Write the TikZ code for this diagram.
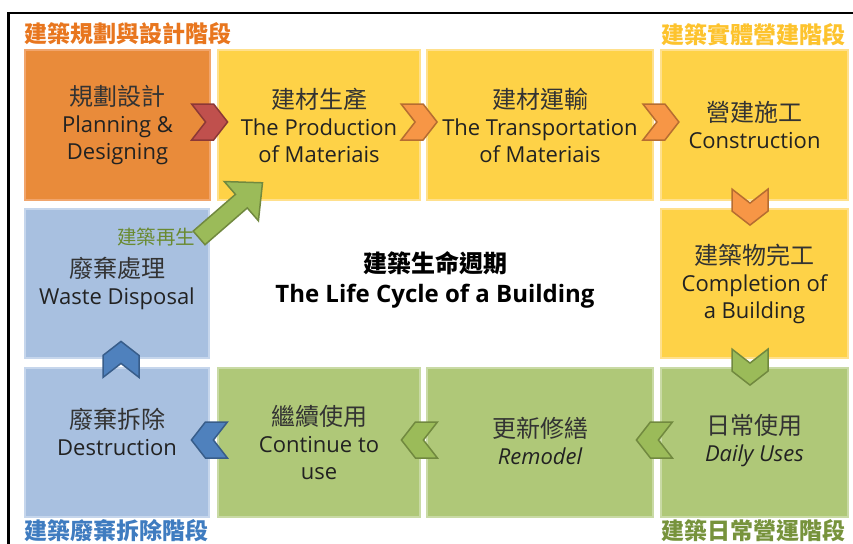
\documentclass[tikz,border=0pt]{standalone}
\usepackage{fontspec}
\setmainfont{Open Sans}
\newfontfamily\cjk{Noto Sans CJK TC}
\usetikzlibrary{calc}
\definecolor{orgbox}{HTML}{E98B3A}
\definecolor{orgline}{HTML}{F1A56C}
\definecolor{yelbox}{HTML}{FED247}
\definecolor{yelline}{HTML}{FFE08C}
\definecolor{blubox}{HTML}{A8C0E0}
\definecolor{bluline}{HTML}{C6D6EC}
\definecolor{grnbox}{HTML}{AFC878}
\definecolor{grnline}{HTML}{C9DAA5}
\definecolor{redchev}{HTML}{C0504D}
\definecolor{redchevd}{HTML}{8C3836}
\definecolor{orgchev}{HTML}{F79646}
\definecolor{orgchevd}{HTML}{B66D31}
\definecolor{grnchev}{HTML}{9BBB59}
\definecolor{grnchevd}{HTML}{71893F}
\definecolor{bluchev}{HTML}{4F81BD}
\definecolor{bluchevd}{HTML}{385D8A}
\definecolor{phaseorg}{HTML}{E8761E}
\definecolor{phaseyel}{HTML}{FDC32D}
\definecolor{phaseblu}{HTML}{3F7CC0}
\definecolor{phasegrn}{HTML}{77933C}
\definecolor{regengrn}{HTML}{6A8A30}
\definecolor{txtdark}{HTML}{222222}
\definecolor{cjkdark}{HTML}{333333}
\tikzset{
  cell/.style 2 args={rectangle, fill=#1, draw=#2, line width=1.2pt, inner sep=0pt},
  celltxt/.style={align=center, text=txtdark, inner sep=0pt,
    font=\fontsize{22}{27}\selectfont},
  phase/.style={inner sep=0pt, font=\cjk\bfseries\fontsize{23}{26}\selectfont},
  chev/.pic={\path[pic actions] (-18,-18) -- (4,-18) -- (18,0) -- (4,18) -- (-18,18) -- (-4,0) -- cycle;},
  chevstyle/.style 2 args={fill=#1, draw=#2, line width=1.5pt, line join=miter}
}
\newcommand{\zh}[1]{{\cjk\fontsize{24}{27}\selectfont\color{cjkdark}#1}}
\begin{document}
\begin{tikzpicture}[x=1pt,y=-1pt]
\useasboundingbox (0,0) rectangle (853,543);
\fill[white] (0,0) rectangle (853,543);
% frame
\coordinate (fr1) at (8.7,543);
\coordinate (fr2) at (8.7,12.8);
\coordinate (fr3) at (853,12.8);
\draw[line width=2.5pt, line cap=rect] (fr1) -- (fr2) -- (fr3);
% row 1
\node[cell={orgbox}{orgline}, minimum width=185pt, minimum height=150pt] (b1) at (117.5,125) {};
\node[cell={yelbox}{yelline}, minimum width=202pt, minimum height=150pt] (b2) at (319,125) {};
\node[cell={yelbox}{yelline}, minimum width=226pt, minimum height=150pt] (b3) at (540,125) {};
\node[cell={yelbox}{yelline}, minimum width=187pt, minimum height=150pt] (b4) at (754.5,125) {};
% row 2
\node[cell={blubox}{bluline}, minimum width=184pt, minimum height=149pt] (b10) at (117,283.5) {};
\node[cell={yelbox}{yelline}, minimum width=187pt, minimum height=149pt] (b5) at (754.5,283.5) {};
% row 3
\node[cell={blubox}{bluline}, minimum width=184pt, minimum height=149pt] (b9) at (117,442.5) {};
\node[cell={grnbox}{grnline}, minimum width=202pt, minimum height=149pt] (b8) at (319,442.5) {};
\node[cell={grnbox}{grnline}, minimum width=226pt, minimum height=149pt] (b7) at (540,442.5) {};
\node[cell={grnbox}{grnline}, minimum width=187pt, minimum height=149pt] (b6) at (754.5,442.5) {};
% texts
\node[celltxt] (t1) at (b1) {\zh{規劃設計}\\Planning \&\\Designing};
\node[celltxt] (t2) at (b2) {\zh{建材生產}\\The Production\\of Materiais};
\node[celltxt] (t3) at (b3) {\zh{建材運輸}\\The Transportation\\of Materiais};
\node[celltxt] (t4) at (b4) {\zh{營建施工}\\Construction};
\node[celltxt] (t5) at (b5) {\zh{建築物完工}\\Completion of\\a Building};
\node[celltxt] (t6) at ($(b6)+(0,-2)$) {\zh{日常使用}\\\itshape Daily Uses};
\node[celltxt] (t7) at ($(b7)+(0,-2)$) {\zh{更新修繕}\\\itshape Remodel};
\node[celltxt] (t8) at (b8) {\zh{繼續使用}\\Continue to\\use};
\node[celltxt] (t9) at ($(b9)+(0,-11)$) {\zh{廢棄拆除}\\Destruction};
\node[celltxt] (t10) at (b10) {\zh{廢棄處理}\\Waste Disposal};
% centre title
\node[align=center, inner sep=0pt, font=\bfseries\fontsize{24}{30}\selectfont] (title) at (435,280)
  {{\cjk\bfseries 建築生命週期}\\The Life Cycle of a Building};
% phase labels
\node[phase, text=phaseorg, anchor=west] (p1) at ($(b1.north west)+(0,-16)$) {建築規劃與設計階段};
\node[phase, text=phaseyel, anchor=east] (p2) at ($(b4.north east)+(-3,-15)$) {建築實體營建階段};
\node[phase, text=phaseblu, anchor=west] (p3) at ($(b9.south west)+(0,13)$) {建築廢棄拆除階段};
\node[phase, text=phasegrn, anchor=east] (p4) at ($(b6.south east)+(-3,13)$) {建築日常營運階段};
% chevrons
\pic[chevstyle={redchev}{redchevd}] at ($(b1.east)+(-1,-3)$) {chev};
\pic[chevstyle={orgchev}{orgchevd}] at ($(b2.east)+(-1.5,-3)$) {chev};
\pic[chevstyle={orgchev}{orgchevd}] at ($(b4.west)+(0.5,-3)$) {chev};
\pic[chevstyle={orgchev}{orgchevd}, rotate=-90] at ($(b4.south)+(-4.5,6.5)$) {chev};
\pic[chevstyle={grnchev}{grnchevd}, rotate=-90] at ($(b5.south)+(-4.5,8.5)$) {chev};
\pic[chevstyle={grnchev}{grnchevd}, rotate=180] at ($(b6.west)+(-6,-2.5)$) {chev};
\pic[chevstyle={grnchev}{grnchevd}, rotate=180] at ($(b7.west)+(-7,-2.5)$) {chev};
\pic[chevstyle={bluchev}{bluchevd}, rotate=180] at ($(b8.west)+(-8,-2.5)$) {chev};
\pic[chevstyle={bluchev}{bluchevd}, rotate=90] at ($(b9.north)+(4,-8)$) {chev};
% green recycle arrow
\coordinate (gt) at ($(b10.north east)+(-10.5,29.5)$);
\begin{scope}[shift={(gt)}, rotate=41]
  \filldraw[fill=grnchev, draw=grnchevd, line width=1.5pt, line join=miter]
    (0,-9) -- (56,-9) -- (56,-26) -- (84,0) -- (56,26) -- (56,9) -- (0,9) -- cycle;
\end{scope}
\node[inner sep=0pt, anchor=east, text=regengrn, font=\cjk\fontsize{19.5}{22}\selectfont] (regen) at ($(b10.north east)+(-14,29)$) {建築再生};
\end{tikzpicture}
\end{document}
